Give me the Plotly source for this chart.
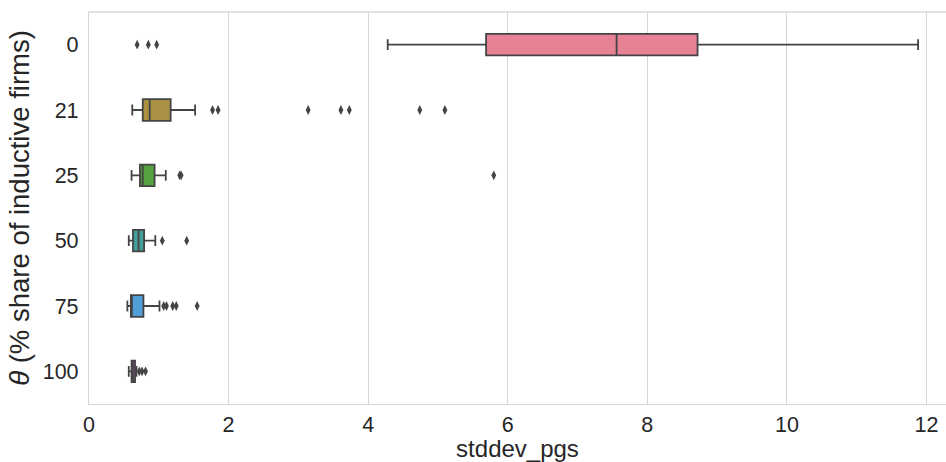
import plotly.graph_objects as go

categories = ["0", "21", "25", "50", "75", "100"]
lower_whisker = [4.28, 0.62, 0.61, 0.57, 0.55, 0.57]
q1 = [5.69, 0.77, 0.73, 0.63, 0.60, 0.61]
median = [7.56, 0.87, 0.77, 0.71, 0.61, 0.63]
q3 = [8.72, 1.17, 0.94, 0.79, 0.78, 0.66]
upper_whisker = [11.88, 1.52, 1.10, 0.95, 1.01, 0.68]
outliers = {
    "0": [0.69, 0.85, 0.97],
    "21": [1.77, 1.85, 3.14, 3.61, 3.73, 4.74, 5.10],
    "25": [1.30, 1.32, 5.80],
    "50": [1.05, 1.40],
    "75": [1.07, 1.11, 1.20, 1.25, 1.55],
    "100": [0.72, 0.76, 0.81],
}
colors = ["#e68294", "#aa9043", "#58a141", "#459e97", "#519fd6", "#d978e2"]

EDGE = "#444444"
GRID = "#d6d6d6"
TXT = "#262626"
FONT = "Liberation Sans, Arial, sans-serif"

fig = go.Figure()
for i, c in enumerate(categories):
    fig.add_trace(go.Box(
        y=[c], q1=[q1[i]], median=[median[i]], q3=[q3[i]],
        lowerfence=[lower_whisker[i]], upperfence=[upper_whisker[i]],
        orientation="h", fillcolor=colors[i],
        line=dict(color=EDGE, width=1.8), width=0.33, whiskerwidth=0.5,
        boxpoints=False, showlegend=False, hoverinfo="skip",
    ))

ox, oy = [], []
for c in categories:
    for v in outliers[c]:
        ox.append(v)
        oy.append(c)
fig.add_trace(go.Scatter(
    x=ox, y=oy, mode="markers",
    marker=dict(symbol="diamond-tall", size=7, color=EDGE, line=dict(width=0)),
    showlegend=False, hoverinfo="skip",
))

fig.add_shape(type="line", xref="paper", yref="paper", x0=0, x1=1, y0=1, y1=1,
              line=dict(color=GRID, width=1.3), layer="below")

fig.update_layout(
    width=946, height=462,
    margin=dict(l=89, r=0, t=12, b=58),
    paper_bgcolor="white", plot_bgcolor="white",
    font=dict(family=FONT, size=21.5, color=TXT),
    boxmode="overlay",
    xaxis=dict(
        range=[0, 12.28], tickvals=[0, 2, 4, 6, 8, 10, 12],
        showgrid=True, gridcolor=GRID, gridwidth=1.2,
        showline=True, linecolor=GRID, linewidth=1.3, zeroline=False,
        ticks="", ticklen=0, ticklabelstandoff=1,
        title=dict(text="stddev_pgs", standoff=3, font=dict(size=24)),
    ),
    yaxis=dict(
        type="category", categoryorder="array", categoryarray=categories,
        range=[5.5, -0.5], showgrid=False,
        showline=True, linecolor=GRID, linewidth=1.3, zeroline=False,
        ticks="", ticklabelstandoff=5,
        title=dict(text="<i>θ</i> (% share of inductive firms)", standoff=5, font=dict(size=27.5)),
    ),
)

fig.write_html("out.html")
